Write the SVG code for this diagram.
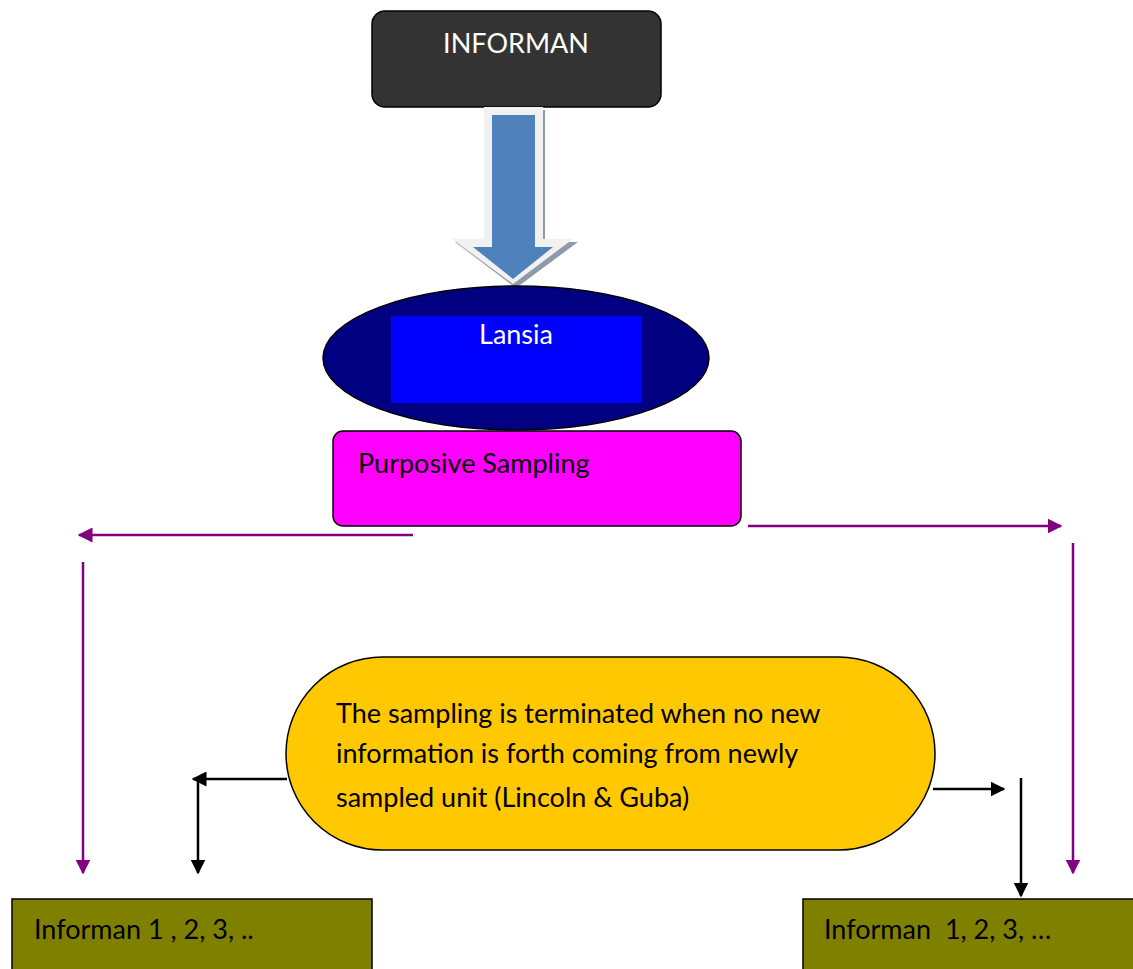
<svg xmlns="http://www.w3.org/2000/svg" width="1133" height="969" viewBox="0 0 1133 969">
<defs>
<style>
text{font-family:Lato,"Open Sans","Liberation Sans",sans-serif;font-size:27px;white-space:pre}
.w{fill:#fff}
.k{fill:#000}
.p{stroke:#800080;stroke-width:2.5;fill:none}
.b{stroke:#000;stroke-width:2.5;fill:none}
</style>
<marker id="ap" viewBox="0 0 10 10" refX="9" refY="5" markerWidth="6" markerHeight="6" orient="auto" markerUnits="strokeWidth"><path d="M0,0 L10,5 L0,10 z" fill="#800080"/></marker>
<marker id="ab" viewBox="0 0 10 10" refX="9" refY="5" markerWidth="6" markerHeight="6" orient="auto" markerUnits="strokeWidth"><path d="M0,0 L10,5 L0,10 z" fill="#000"/></marker>
</defs>
<rect width="1133" height="969" fill="#fff"/>
<g id="informan">
<rect x="372" y="11" width="289" height="96" rx="13" fill="#333333" stroke="#000" stroke-width="1.5"/>
<text x="516" y="53" class="w" text-anchor="middle">INFORMAN</text>
</g>
<g id="block-arrow">
<path d="M487,110 L545,110 L545,242 L578,242 L516,288 L455,242 L487,242 z" fill="#8f9aa8"/>
<path d="M484,107 L543,107 L543,239 L573,239 L513,284 L452,239 L484,239 z" fill="#f1f1f1"/>
<path d="M492,115 L535,115 L535,247 L553,247 L513,279 L473,247 L492,247 z" fill="#4f81bd"/>
</g>
<g id="lansia">
<ellipse cx="516" cy="358" rx="193" ry="72" fill="#000080" stroke="#000" stroke-width="1.5"/>
<rect x="391" y="316" width="251" height="87" fill="#0000ff"/>
<text x="516" y="344" class="w" text-anchor="middle">Lansia</text>
</g>
<g id="purposive">
<rect x="333" y="431" width="408" height="95" rx="10" fill="#ff00ff" stroke="#000" stroke-width="1.5"/>
<text x="358" y="473" class="k">Purposive Sampling</text>
</g>
<g id="terminated">
<rect x="286" y="657" width="649" height="193" rx="96.5" fill="#ffc800" stroke="#000" stroke-width="1.5"/>
<text x="336" y="723" class="k">The sampling is terminated when no new</text>
<text x="336" y="763" class="k">information is forth coming from newly</text>
<text x="336" y="807" class="k">sampled unit (Lincoln &amp; Guba)</text>
</g>
<g id="informan-left">
<rect x="12" y="899" width="360" height="80" fill="#808000" stroke="#000" stroke-width="1.5"/>
<text x="34" y="939" class="k">Informan 1 , 2, 3, ..</text>
</g>
<g id="informan-right">
<rect x="803" y="899" width="340" height="80" fill="#808000" stroke="#000" stroke-width="1.5"/>
<text x="824" y="939" class="k">Informan  1, 2, 3, …</text>
</g>
<g id="connectors">
<line x1="413" y1="535" x2="79" y2="535" class="p" marker-end="url(#ap)"/>
<line x1="83" y1="562" x2="83" y2="873" class="p" marker-end="url(#ap)"/>
<line x1="748" y1="526" x2="1061" y2="526" class="p" marker-end="url(#ap)"/>
<line x1="1073" y1="543" x2="1073" y2="873" class="p" marker-end="url(#ap)"/>
<line x1="287" y1="779" x2="193" y2="779" class="b" marker-end="url(#ab)"/>
<line x1="198" y1="779" x2="198" y2="873" class="b" marker-end="url(#ab)"/>
<line x1="933" y1="789" x2="1004" y2="789" class="b" marker-end="url(#ab)"/>
<line x1="1021" y1="778" x2="1021" y2="896" class="b" marker-end="url(#ab)"/>
</g>
</svg>
